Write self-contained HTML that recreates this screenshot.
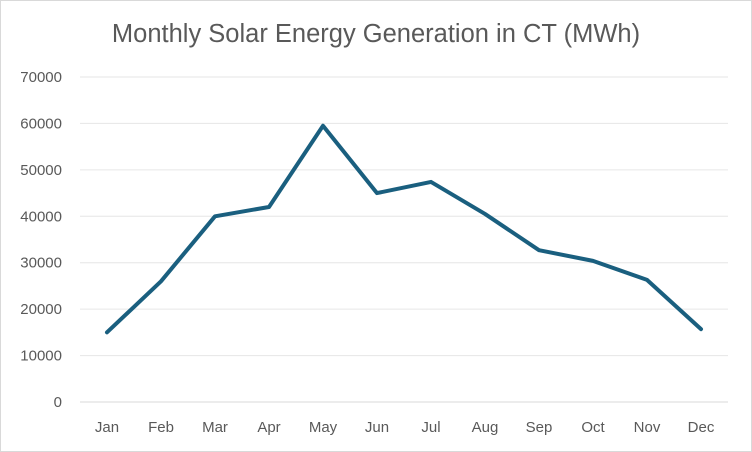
<!DOCTYPE html>
<html><head><meta charset="utf-8"><style>
body{margin:0;background:#fff;}
svg{display:block;font-family:"Liberation Sans",sans-serif;}
</style></head><body>
<svg id="chart" width="752" height="452">
<rect x="0.5" y="0.5" width="751" height="451" fill="#fff" stroke="#d9d9d9"/>
<text x="376" y="42" text-anchor="middle" font-size="25.5" fill="#595959">Monthly Solar Energy Generation in CT (MWh)</text>
<g id="grid"></g><g id="xl"></g><path id="line" fill="none" stroke="#1a5f7f" stroke-width="4" stroke-linejoin="round" stroke-linecap="round"/>
</svg>
<script>
const categories=["Jan","Feb","Mar","Apr","May","Jun","Jul","Aug","Sep","Oct","Nov","Dec"];
const values=[15000,26000,40000,42000,59500,45000,47400,40500,32700,30400,26300,15700];
const yTicks=[0,10000,20000,30000,40000,50000,60000,70000];
const ns="http://www.w3.org/2000/svg";
const y=v=>402-v*(325/70000);
const x=i=>107+i*54;
const g=document.getElementById('grid'),xl=document.getElementById('xl');
yTicks.forEach(t=>{
 const l=document.createElementNS(ns,'line');
 l.setAttribute('x1',80);l.setAttribute('x2',728);l.setAttribute('y1',y(t));l.setAttribute('y2',y(t));
 l.setAttribute('stroke',t===0?'#d9d9d9':'#e6e6e6');
 
 
 g.appendChild(l);
 const tx=document.createElementNS(ns,'text');
 tx.setAttribute('x',62);tx.setAttribute('y',y(t)+5);tx.setAttribute('text-anchor','end');
 tx.setAttribute('font-size','15');tx.setAttribute('fill','#595959');tx.textContent=t;
 
 
 g.appendChild(tx);
});
categories.forEach((c,i)=>{
 const tx=document.createElementNS(ns,'text');
 tx.setAttribute('x',x(i));tx.setAttribute('y',432);tx.setAttribute('text-anchor','middle');
 tx.setAttribute('font-size','15');tx.setAttribute('fill','#595959');tx.textContent=c;
 
 
 xl.appendChild(tx);
});
const p=document.getElementById('line');
p.setAttribute('d',values.map((v,i)=>(i?'L':'M')+x(i)+' '+y(v)).join(' '));


</script>
</body></html>
